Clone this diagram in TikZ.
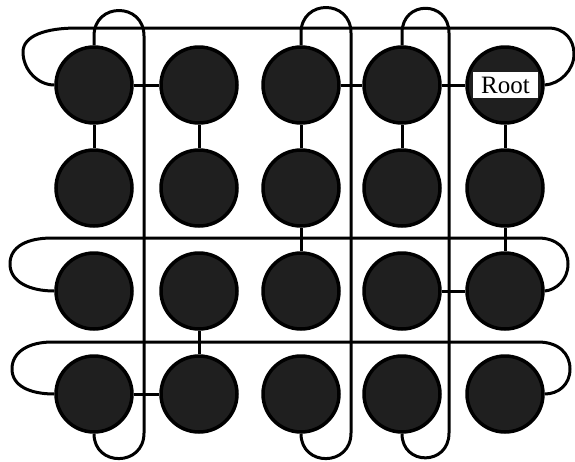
\documentclass[tikz,border=0pt]{standalone}
\usepackage{fontspec}
\setmainfont{Liberation Serif}
\begin{document}
\begin{tikzpicture}[x=1pt,y=-1pt,
  dot/.style={circle,draw=black,line width=3.5pt,fill=black!88,minimum size=76pt,inner sep=0pt},
  link/.style={draw=black,line width=3pt},
  wrap/.style={draw=black,line width=3pt,line join=round},
  rootbox/.style={fill=white,draw=none,minimum width=65pt,minimum height=26pt,inner sep=0pt,font=\fontsize{25}{25}\selectfont}]
\useasboundingbox (0,0) rectangle (575,461);
% circles
\foreach \r/\y in {1/85,2/188,3/291,4/394}{
  \foreach \c/\x in {1/94,2/199,3/301,4/402,5/505}{
    \node[dot] (n\r\c) at (\x,\y) {};
  }
}
% tree links
\draw[link] (n11) -- (n12);
\draw[link] (n13) -- (n14);
\draw[link] (n14) -- (n15);
\draw[link] (n11) -- (n21);
\draw[link] (n12) -- (n22);
\draw[link] (n13) -- (n23);
\draw[link] (n14) -- (n24);
\draw[link] (n15) -- (n25);
\draw[link] (n23) -- (n33);
\draw[link] (n25) -- (n35);
\draw[link] (n34) -- (n35);
\draw[link] (n32) -- (n42);
\draw[link] (n41) -- (n42);
% row wrap-around links
\draw[wrap] (n11.west) .. controls (38,85) and (23,70) .. (23,52)
  .. controls (23,36) and (45,28) .. (77,28) -- (548,28)
  .. controls (565,28) and (574,40) .. (574,54)
  .. controls (574,70) and (560,84) .. (n15.east);
\draw[wrap] (n31.west) .. controls (30,291) and (10,282) .. (10,264)
  .. controls (10,246) and (28,238) .. (52,238) -- (538,238)
  .. controls (556,238) and (568,248) .. (568,264)
  .. controls (568,280) and (556,290) .. (n35.east);
\draw[wrap] (n41.west) .. controls (30,394) and (12,386) .. (12,369)
  .. controls (12,351) and (30,342) .. (52,342) -- (538,342)
  .. controls (558,342) and (570,353) .. (570,369)
  .. controls (570,385) and (558,394) .. (n45.east);
% column wrap-around links
\draw[wrap] (n11.north) -- (94,36) .. controls (94,2) and (144,2) .. (144,36)
  -- (144,433) .. controls (144,467) and (94,467) .. (n41.south);
\draw[wrap] (n13.north) -- (301,33) .. controls (301,-1) and (351,-1) .. (351,33)
  -- (351,433) .. controls (351,467) and (301,467) .. (n43.south);
\draw[wrap] (n14.north) -- (402,33) .. controls (402,0) and (449,0) .. (449,33)
  -- (449,433) .. controls (449,466) and (402,466) .. (n44.south);
% root label
\node[rootbox] (root) at (505.5,85) {Root};
\end{tikzpicture}
\end{document}
